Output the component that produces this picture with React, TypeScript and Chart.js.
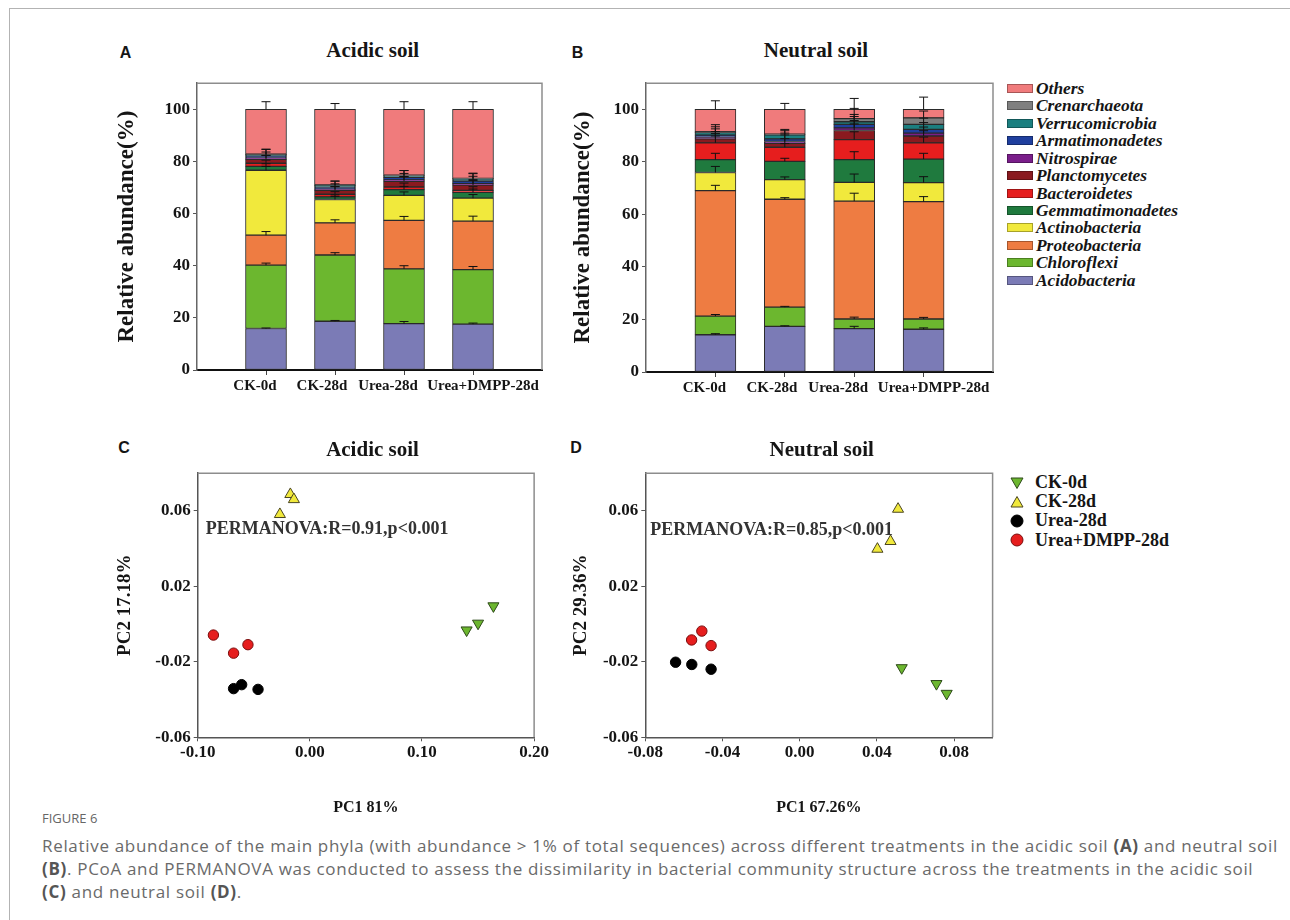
import React, { useEffect, useRef } from 'react';
import { Chart, registerables } from 'chart.js';

Chart.register(...registerables);

// ---------- Data ----------
const categories = ['CK-0d', 'CK-28d', 'Urea-28d', 'Urea+DMPP-28d'];
const categoryPositions = [1, 2, 3, 4];
const barYTicks = [0, 20, 40, 60, 80, 100];

const phyla = [
  'Acidobacteria', 'Chloroflexi', 'Proteobacteria', 'Actinobacteria', 'Gemmatimonadetes',
  'Bacteroidetes', 'Planctomycetes', 'Nitrospirae', 'Armatimonadetes', 'Verrucomicrobia',
  'Crenarchaeota', 'Others',
];
const phylaColors = [
  '#7b7bb6', '#6cb72f', '#ee7c42', '#f1e93c', '#1f7a3e',
  '#e61e1e', '#8a1a1f', '#7a1e8a', '#1f3f9e', '#1b7f80',
  '#7f7f7f', '#f07b7c',
];

// Acidic soil (segment sizes, %)
const acidicAcidobacteria = [15.9, 18.7, 17.8, 17.6];
const acidicChloroflexi = [24.3, 25.4, 21.0, 20.9];
const acidicProteobacteria = [11.5, 12.3, 18.6, 18.6];
const acidicActinobacteria = [24.9, 9.0, 9.6, 8.8];
const acidicGemmatimonadetes = [1.5, 1.0, 2.2, 2.2];
const acidicBacteroidetes = [1.2, 1.0, 1.0, 0.8];
const acidicPlanctomycetes = [1.5, 1.5, 2.2, 2.0];
const acidicNitrospirae = [0.5, 0.5, 0.5, 0.6];
const acidicArmatimonadetes = [0.8, 0.8, 1.0, 1.0];
const acidicVerrucomicrobia = [0.5, 0.6, 0.6, 0.8];
const acidicCrenarchaeota = [0.2, 0.2, 0.2, 0.2];
const acidicOthers = [17.2, 29.0, 25.3, 26.5];

// Acidic soil error bars (+SD)
const acidicAcidobacteriaErr = [0.2, 0.3, 0.8, 0.4];
const acidicChloroflexiErr = [0.8, 0.9, 1.2, 1.2];
const acidicProteobacteriaErr = [1.4, 1.2, 1.5, 1.9];
const acidicActinobacteriaErr = [1.5, 1.2, 1.3, 1.4];
const acidicGemmatimonadetesErr = [1.0, 0.8, 1.2, 1.3];
const acidicBacteroidetesErr = [1.2, 1.0, 1.5, 1.4];
const acidicPlanctomycetesErr = [1.5, 1.4, 1.8, 1.8];
const acidicNitrospiraeErr = [1.0, 1.0, 1.3, 1.5];
const acidicArmatimonadetesErr = [1.5, 1.2, 1.5, 1.8];
const acidicVerrucomicrobiaErr = [2.0, 1.6, 2.0, 2.0];
const acidicCrenarchaeotaErr = [1.9, 1.5, 1.8, 2.0];
const acidicOthersErr = [2.9, 2.2, 2.9, 2.9];

// Neutral soil (segment sizes, %)
const neutralAcidobacteria = [14.2, 17.4, 16.5, 16.3];
const neutralChloroflexi = [7.1, 7.3, 3.7, 3.9];
const neutralProteobacteria = [47.8, 41.1, 44.9, 44.7];
const neutralActinobacteria = [6.9, 7.5, 7.1, 7.2];
const neutralGemmatimonadetes = [4.9, 6.9, 8.7, 9.0];
const neutralBacteroidetes = [6.4, 5.4, 7.6, 6.2];
const neutralPlanctomycetes = [1.5, 1.5, 3.5, 2.6];
const neutralNitrospirae = [0.6, 0.7, 1.0, 1.1];
const neutralArmatimonadetes = [0.8, 1.0, 1.3, 1.4];
const neutralVerrucomicrobia = [1.0, 1.5, 1.0, 1.9];
const neutralCrenarchaeota = [0.3, 0.3, 1.2, 2.5];
const neutralOthers = [8.5, 9.4, 3.5, 3.2];

// Neutral soil error bars (+SD)
const neutralAcidobacteriaErr = [0.4, 0.2, 0.9, 0.5];
const neutralChloroflexiErr = [0.6, 0.3, 0.7, 0.6];
const neutralProteobacteriaErr = [2.0, 0.6, 3.0, 1.9];
const neutralActinobacteriaErr = [2.3, 1.0, 3.2, 2.3];
const neutralGemmatimonadetesErr = [2.4, 1.2, 3.0, 2.2];
const neutralBacteroidetesErr = [2.6, 1.4, 3.0, 2.2];
const neutralPlanctomycetesErr = [2.0, 1.8, 2.5, 2.0];
const neutralNitrospiraeErr = [2.2, 2.5, 2.8, 2.3];
const neutralArmatimonadetesErr = [2.4, 2.2, 3.0, 2.6];
const neutralVerrucomicrobiaErr = [2.2, 1.6, 2.8, 2.4];
const neutralCrenarchaeotaErr = [2.7, 1.8, 3.9, 2.6];
const neutralOthersErr = [3.3, 2.3, 4.2, 4.7];

// PCoA groups
const pcoaGroups = ['CK-0d', 'CK-28d', 'Urea-28d', 'Urea+DMPP-28d'];
const pcoaYTicks = [-0.06, -0.02, 0.02, 0.06];
const acidicXTicks = [-0.1, 0.0, 0.1, 0.2];
const neutralXTicks = [-0.08, -0.04, 0.0, 0.04, 0.08];

const acidicCK0dPC1 = [0.1637, 0.15, 0.1398];
const acidicCK0dPC2 = [0.0096, 0.0004, -0.0032];
const acidicCK28dPC1 = [-0.0174, -0.0142, -0.0267];
const acidicCK28dPC2 = [0.0688, 0.0661, 0.0582];
const acidicUreaPC1 = [-0.068, -0.0608, -0.0462];
const acidicUreaPC2 = [-0.0342, -0.0321, -0.0346];
const acidicDMPPPC1 = [-0.086, -0.068, -0.0552];
const acidicDMPPPC2 = [-0.0058, -0.0154, -0.0109];

const neutralCK0dPC1 = [0.0529, 0.0709, 0.0762];
const neutralCK0dPC2 = [-0.0232, -0.0316, -0.0368];
const neutralCK28dPC1 = [0.051, 0.0471, 0.0403];
const neutralCK28dPC2 = [0.061, 0.0439, 0.0398];
const neutralUreaPC1 = [-0.0643, -0.0559, -0.0459];
const neutralUreaPC2 = [-0.0202, -0.0214, -0.0239];
const neutralDMPPPC1 = [-0.056, -0.0507, -0.0459];
const neutralDMPPPC2 = [-0.0084, -0.0037, -0.0114];

// ---------- Styles ----------
const SERIF = '"Liberation Serif", "Times New Roman", serif';
const SANS = '"Liberation Sans", Arial, sans-serif';
const INK = '#151515';
const labelShift = [-11, -13, -16, 10];

const acidicValues = [
  acidicAcidobacteria, acidicChloroflexi, acidicProteobacteria, acidicActinobacteria,
  acidicGemmatimonadetes, acidicBacteroidetes, acidicPlanctomycetes, acidicNitrospirae,
  acidicArmatimonadetes, acidicVerrucomicrobia, acidicCrenarchaeota, acidicOthers,
];
const acidicErrors = [
  acidicAcidobacteriaErr, acidicChloroflexiErr, acidicProteobacteriaErr, acidicActinobacteriaErr,
  acidicGemmatimonadetesErr, acidicBacteroidetesErr, acidicPlanctomycetesErr, acidicNitrospiraeErr,
  acidicArmatimonadetesErr, acidicVerrucomicrobiaErr, acidicCrenarchaeotaErr, acidicOthersErr,
];
const neutralValues = [
  neutralAcidobacteria, neutralChloroflexi, neutralProteobacteria, neutralActinobacteria,
  neutralGemmatimonadetes, neutralBacteroidetes, neutralPlanctomycetes, neutralNitrospirae,
  neutralArmatimonadetes, neutralVerrucomicrobia, neutralCrenarchaeota, neutralOthers,
];
const neutralErrors = [
  neutralAcidobacteriaErr, neutralChloroflexiErr, neutralProteobacteriaErr, neutralActinobacteriaErr,
  neutralGemmatimonadetesErr, neutralBacteroidetesErr, neutralPlanctomycetesErr, neutralNitrospiraeErr,
  neutralArmatimonadetesErr, neutralVerrucomicrobiaErr, neutralCrenarchaeotaErr, neutralOthersErr,
];

const pcoaStyles = [
  { bg: '#6cb72f', border: '#2e4a1a', style: 'triangle', rotation: 180, radius: 6.4 },
  { bg: '#f1e93c', border: '#4a4520', style: 'triangle', rotation: 0, radius: 6.4 },
  { bg: '#000000', border: '#000000', style: 'circle', rotation: 0, radius: 5.2 },
  { bg: '#e61e1e', border: '#7a0c0c', style: 'circle', rotation: 0, radius: 5.2 },
];

// ---------- Plugins ----------
const boxPlugin = {
  id: 'boxFrame',
  beforeDatasetsDraw(chart: any) {
    const { ctx, chartArea } = chart;
    const { left, right, top, bottom } = chartArea;
    ctx.save();
    ctx.strokeStyle = '#8d8d8d';
    ctx.lineWidth = 1.5;
    ctx.beginPath();
    ctx.moveTo(left, top);
    ctx.lineTo(right, top);
    ctx.lineTo(right, bottom);
    ctx.stroke();
    ctx.restore();
  },
};

function makeErrorPlugin(errors: number[][]) {
  return {
    id: 'errorBars',
    afterDatasetsDraw(chart: any) {
      const { ctx } = chart;
      const y = chart.scales.y;
      const unit = y.getPixelForValue(0) - y.getPixelForValue(1);
      ctx.save();
      ctx.strokeStyle = '#111';
      ctx.lineWidth = 1;
      errors.forEach((errs, di) => {
        const meta = chart.getDatasetMeta(di);
        meta.data.forEach((el: any, j: number) => {
          const e = errs[j];
          if (!e) return;
          const top = Math.min(el.y, el.base);
          const end = top - e * unit;
          ctx.beginPath();
          ctx.moveTo(el.x, top);
          ctx.lineTo(el.x, end);
          ctx.moveTo(el.x - 4.5, end);
          ctx.lineTo(el.x + 4.5, end);
          ctx.stroke();
        });
      });
      ctx.restore();
    },
  };
}

const xLabelPlugin = {
  id: 'xCategoryLabels',
  afterDraw(chart: any) {
    const { ctx, chartArea } = chart;
    const x = chart.scales.x;
    ctx.save();
    ctx.font = `bold 15px ${SERIF}`;
    ctx.fillStyle = INK;
    ctx.textAlign = 'center';
    ctx.textBaseline = 'middle';
    categoryPositions.forEach((p, i) => {
      ctx.fillText(categories[i], x.getPixelForValue(p) + labelShift[i], chartArea.bottom + 16);
    });
    ctx.restore();
  },
};

function makeTextPlugin(text: string, dx: number, dy: number) {
  return {
    id: 'permanova',
    afterDatasetsDraw(chart: any) {
      const { ctx, chartArea } = chart;
      ctx.save();
      ctx.font = `bold 18px ${SERIF}`;
      ctx.fillStyle = '#333';
      ctx.textAlign = 'left';
      ctx.textBaseline = 'middle';
      ctx.fillText(text, chartArea.left + dx, chartArea.top + dy);
      ctx.restore();
    },
  };
}

// ---------- Configs ----------
function barConfig(values: number[][], errors: number[][], yWidth: number, xHeight: number, padTop: number, padRight: number, titlePad: number) {
  return {
    type: 'bar',
    data: {
      labels: categoryPositions,
      datasets: phyla.map((name, i) => ({
        label: name,
        data: values[i],
        backgroundColor: phylaColors[i],
        borderColor: '#2a2a2a',
        borderWidth: 1,
        borderSkipped: false,
        barThickness: 41,
      })),
    },
    options: {
      animation: false,
      responsive: false,
      devicePixelRatio: 1,
      layout: { padding: { top: padTop, right: padRight, left: 0, bottom: 0 } },
      plugins: { legend: { display: false }, tooltip: { enabled: false }, title: { display: false } },
      scales: {
        x: {
          type: 'linear',
          min: 0,
          max: 5,
          offset: false,
          stacked: true,
          afterBuildTicks: (s: any) => { s.ticks = categoryPositions.map((v) => ({ value: v })); },
          afterFit: (s: any) => { s.height = xHeight; },
          ticks: { display: false },
          grid: { offset: false, drawOnChartArea: false, drawTicks: true, tickLength: 5, color: '#444', lineWidth: 1 },
          border: { display: true, color: '#111', width: 2 },
        },
        y: {
          type: 'linear',
          min: 0,
          max: 110,
          stacked: true,
          afterBuildTicks: (s: any) => { s.ticks = barYTicks.map((v) => ({ value: v })); },
          afterFit: (s: any) => { s.width = yWidth; },
          ticks: { font: { family: SERIF, size: 17, weight: 'bold' }, color: INK, padding: 3 },
          grid: { drawOnChartArea: false, drawTicks: true, tickLength: 4, color: '#555' },
          border: { display: true, color: '#666', width: 1.5 },
          title: {
            display: true,
            text: 'Relative abundance(%)',
            font: { family: SERIF, size: 23, weight: 'bold' },
            color: INK,
            padding: { top: titlePad, bottom: 0 },
          },
        },
      },
    },
    plugins: [boxPlugin, makeErrorPlugin(errors), xLabelPlugin],
  };
}

function scatterConfig(
  groups: { pc1: number[]; pc2: number[] }[],
  xMin: number, xMax: number, xTicks: number[],
  xTitle: string, yTitle: string, note: string,
  yWidth: number, xHeight: number, padTop: number, padRight: number, yTitlePad: number,
  noteDx: number, noteDy: number,
) {
  return {
    type: 'scatter',
    data: {
      datasets: groups.map((g, i) => ({
        label: pcoaGroups[i],
        data: g.pc1.map((x, k) => ({ x, y: g.pc2[k] })),
        backgroundColor: pcoaStyles[i].bg,
        borderColor: pcoaStyles[i].border,
        borderWidth: 1,
        pointStyle: pcoaStyles[i].style,
        rotation: pcoaStyles[i].rotation,
        pointRadius: pcoaStyles[i].radius,
      })),
    },
    options: {
      animation: false,
      responsive: false,
      devicePixelRatio: 1,
      layout: { padding: { top: padTop, right: padRight, left: 0, bottom: 0 } },
      plugins: { legend: { display: false }, tooltip: { enabled: false } },
      scales: {
        x: {
          type: 'linear',
          min: xMin,
          max: xMax,
          afterBuildTicks: (s: any) => { s.ticks = xTicks.map((v) => ({ value: v })); },
          afterFit: (s: any) => { s.height = xHeight; },
          ticks: {
            font: { family: SERIF, size: 17, weight: 'bold' },
            color: INK,
            padding: 1,
            maxRotation: 0,
            callback: (v: any) => Number(v).toFixed(2),
          },
          grid: { drawOnChartArea: false, drawTicks: true, tickLength: 4, color: '#555' },
          border: { display: true, color: '#555', width: 1.5 },
          title: {
            display: true,
            text: xTitle,
            font: { family: SERIF, size: 16, weight: 'bold' },
            color: INK,
            padding: { top: 0, bottom: 3 },
          },
        },
        y: {
          type: 'linear',
          min: -0.06,
          max: 0.08,
          afterBuildTicks: (s: any) => { s.ticks = pcoaYTicks.map((v) => ({ value: v })); },
          afterFit: (s: any) => { s.width = yWidth; },
          ticks: {
            font: { family: SERIF, size: 17, weight: 'bold' },
            color: INK,
            padding: 3,
            callback: (v: any) => Number(v).toFixed(2),
          },
          grid: { drawOnChartArea: false, drawTicks: true, tickLength: 4, color: '#555' },
          border: { display: true, color: '#555', width: 1.5 },
          title: {
            display: true,
            text: yTitle,
            font: { family: SERIF, size: 19, weight: 'bold' },
            color: INK,
            padding: { top: yTitlePad, bottom: 0 },
          },
        },
      },
    },
    plugins: [boxPlugin, makeTextPlugin(note, noteDx, noteDy)],
  };
}

// ---------- Components ----------
function ChartCanvas({ left, top, width, height, makeConfig }: any) {
  const ref = useRef<HTMLCanvasElement>(null);
  useEffect(() => {
    const chart = new Chart(ref.current as HTMLCanvasElement, makeConfig());
    return () => chart.destroy();
  }, []);
  return (
    <div style={{ position: 'absolute', left, top, width, height }}>
      <canvas ref={ref} width={width} height={height} style={{ width, height, display: 'block' }} />
    </div>
  );
}

function Text({ x, y, children, size, weight = 'bold', family = SERIF, align = 'center', color = INK, italic = false }: any) {
  const lh = Math.round(size * 1.3);
  return (
    <div
      style={{
        position: 'absolute',
        left: x,
        top: y - lh / 2,
        lineHeight: `${lh}px`,
        fontSize: size,
        fontWeight: weight,
        fontStyle: italic ? 'italic' : 'normal',
        fontFamily: family,
        color,
        whiteSpace: 'nowrap',
        transform: align === 'center' ? 'translateX(-50%)' : 'none',
      }}
    >
      {children}
    </div>
  );
}

function Marker({ x, y, i }: any) {
  const s = pcoaStyles[i];
  const size = 14;
  let shape;
  if (s.style === 'circle') {
    shape = <circle cx={7} cy={7} r={6} fill={s.bg} stroke={s.border} strokeWidth={1} />;
  } else if (s.rotation === 180) {
    shape = <polygon points="1,2 13,2 7,12.5" fill={s.bg} stroke={s.border} strokeWidth={1} />;
  } else {
    shape = <polygon points="1,12 13,12 7,1.5" fill={s.bg} stroke={s.border} strokeWidth={1} />;
  }
  return (
    <svg width={size} height={size} style={{ position: 'absolute', left: x - 7, top: y - 7 }}>
      {shape}
    </svg>
  );
}

export default function App() {
  const acidicGroups = [
    { pc1: acidicCK0dPC1, pc2: acidicCK0dPC2 },
    { pc1: acidicCK28dPC1, pc2: acidicCK28dPC2 },
    { pc1: acidicUreaPC1, pc2: acidicUreaPC2 },
    { pc1: acidicDMPPPC1, pc2: acidicDMPPPC2 },
  ];
  const neutralGroups = [
    { pc1: neutralCK0dPC1, pc2: neutralCK0dPC2 },
    { pc1: neutralCK28dPC1, pc2: neutralCK28dPC2 },
    { pc1: neutralUreaPC1, pc2: neutralUreaPC2 },
    { pc1: neutralDMPPPC1, pc2: neutralDMPPPC2 },
  ];
  const legendOrder = phyla.map((_, i) => phyla.length - 1 - i);
  const bold = { color: '#555', fontWeight: 700 };

  return (
    <div style={{ position: 'fixed', left: 0, top: 0, width: 1290, height: 920, background: '#fff', overflow: 'hidden' }}>
      <div style={{ position: 'absolute', left: 9, top: 8, width: 1300, height: 930, borderLeft: '1px solid #b3b3b3', borderTop: '1px solid #b3b3b3' }} />

      {/* Panel A */}
      <ChartCanvas left={100} top={70} width={450} height={350}
        makeConfig={() => barConfig(acidicValues, acidicErrors, 97, 50, 12, 8, 13)} />
      {/* Panel B */}
      <ChartCanvas left={548} top={70} width={452} height={350}
        makeConfig={() => barConfig(neutralValues, neutralErrors, 98, 48, 12, 7, 21)} />
      {/* Panel C */}
      <ChartCanvas left={100} top={460} width={450} height={360}
        makeConfig={() => scatterConfig(acidicGroups, -0.1, 0.2, acidicXTicks, 'PC1 81%', 'PC2 17.18%',
          'PERMANOVA:R=0.91,p<0.001', 97.7, 82.7, 11.7, 8.3, 13.6, 8, 56)} />
      {/* Panel D */}
      <ChartCanvas left={548} top={460} width={452} height={360}
        makeConfig={() => scatterConfig(neutralGroups, -0.08, 0.1, neutralXTicks, 'PC1 67.26%', 'PC2 29.36%',
          'PERMANOVA:R=0.85,p<0.001', 97.3, 82.7, 11.7, 5.7, 21.3, 5, 57)} />

      {/* Panel letters */}
      <Text x={125.5} y={52} size={16} family={SANS}>A</Text>
      <Text x={577.5} y={52} size={16} family={SANS}>B</Text>
      <Text x={124} y={447.5} size={16} family={SANS}>C</Text>
      <Text x={576} y={447.5} size={16} family={SANS}>D</Text>

      {/* Titles */}
      <Text x={372.7} y={50} size={21}>Acidic soil</Text>
      <Text x={816} y={50} size={21}>Neutral soil</Text>
      <Text x={372.5} y={449} size={21}>Acidic soil</Text>
      <Text x={821.7} y={449} size={21}>Neutral soil</Text>

      {/* Phyla legend */}
      {legendOrder.map((pi, k) => {
        const cy = 88.3 + 17.45 * k;
        return (
          <React.Fragment key={phyla[pi]}>
            <div style={{ position: 'absolute', left: 1007, top: cy - 4.5, width: 26, height: 9, background: phylaColors[pi], boxSizing: 'border-box', border: '1px solid rgba(0,0,0,0.3)' }} />
            <Text x={1036} y={cy} size={17.4} align="left" italic>{phyla[pi]}</Text>
          </React.Fragment>
        );
      })}

      {/* PCoA legend */}
      {pcoaGroups.map((g, i) => {
        const cy = 482.7 + 19.1 * i;
        return (
          <React.Fragment key={g}>
            <Marker x={1016.7} y={cy} i={i} />
            <Text x={1035} y={cy} size={18} align="left">{g}</Text>
          </React.Fragment>
        );
      })}

      {/* Caption */}
      <Text x={42} y={818} size={13} align="left" weight="normal" family={'"Liberation Sans Narrow", "Open Sans", sans-serif'} color="#666">FIGURE 6</Text>
      <div style={{ position: 'absolute', left: 42, top: 833.5, fontFamily: '"Open Sans", sans-serif', fontSize: 17, letterSpacing: '0.68px', lineHeight: '23px', color: '#6a6a6a', whiteSpace: 'nowrap' }}>
        <div>Relative abundance of the main phyla (with abundance &gt; 1% of total sequences) across different treatments in the acidic soil <span style={bold}>(A)</span> and neutral soil</div>
        <div><span style={bold}>(B)</span>. PCoA and PERMANOVA was conducted to assess the dissimilarity in bacterial community structure across the treatments in the acidic soil</div>
        <div><span style={bold}>(C)</span> and neutral soil <span style={bold}>(D)</span>.</div>
      </div>
    </div>
  );
}
